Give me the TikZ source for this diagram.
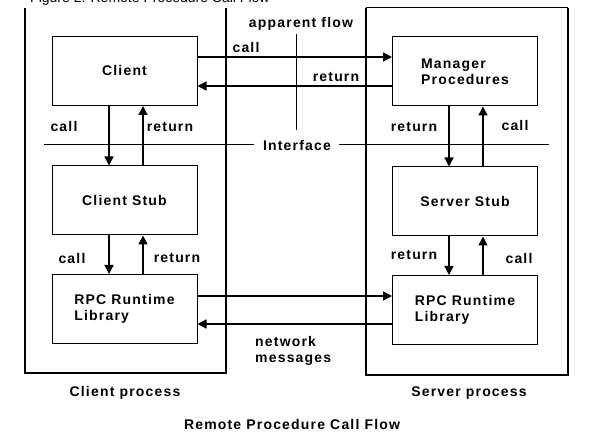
\documentclass[tikz,border=0pt]{standalone}
\usepackage{fontspec}
\setmainfont{Liberation Sans}
\newfontfamily\lbl[LetterSpace=8.5]{Liberation Sans Bold}
\usetikzlibrary{arrows.meta}
\begin{document}
\begin{tikzpicture}[x=1pt,y=-1pt,
  txt/.style={font=\lbl\fontsize{14}{16}\selectfont, inner sep=0pt},
  box/.style={draw, line width=1pt, minimum width=145pt, minimum height=69pt,
    inner sep=0pt, align=left, font=\lbl\fontsize{14}{16}\selectfont},
  arr/.style={line width=1.4pt, -{Triangle[length=9pt,width=9pt]}},
  proc/.style={line width=1.8pt},
  rule/.style={line width=1pt}]
\useasboundingbox (0,0) rectangle (608,443);
\clip (0,0) rectangle (608,443);
% title (cropped)
\node[anchor=base west, font=\fontsize{14}{16}\selectfont, inner sep=0pt] (fig) at (30,3) {Figure 2. Remote Procedure Call Flow};
% process frames
\draw[proc] (25,8) -- (25,373) -- (226,373) -- (226,8);
\draw[proc] (366,8) -- (366,375) -- (568,375) -- (568,8);
\draw[rule] (366,8) -- (568,8);
% boxes
\node[box] (client) at (124.5,71) {Client};
\node[box] (manager) at (465,71.5) {Manager\\Procedures};
\node[box] (cstub) at (124.5,200.5) {Client Stub};
\node[box] (sstub) at (465,201.5) {Server Stub};
\node[box] (crpc) at (124.5,309) {RPC Runtime\\Library};
\node[box] (srpc) at (465,310) {RPC Runtime\\Library};
% helper coordinates
\coordinate (xa) at (109,0);
\coordinate (xb) at (143,0);
\coordinate (xc) at (449,0);
\coordinate (xd) at (483,0);
\coordinate (ya) at (0,57);
\coordinate (yb) at (0,86);
\coordinate (yc) at (0,296);
\coordinate (yd) at (0,324);
% arrows
\draw[arr] (client.east |- ya) -- (manager.west |- ya);
\draw[arr] (manager.west |- yb) -- (client.east |- yb);
\draw[arr] (client.south -| xa) -- (cstub.north -| xa);
\draw[arr] (cstub.north -| xb) -- (client.south -| xb);
\draw[arr] (cstub.south -| xa) -- (crpc.north -| xa);
\draw[arr] (crpc.north -| xb) -- (cstub.south -| xb);
\draw[arr] (manager.south -| xc) -- (sstub.north -| xc);
\draw[arr] (sstub.north -| xd) -- (manager.south -| xd);
\draw[arr] (sstub.south -| xc) -- (srpc.north -| xc);
\draw[arr] (srpc.north -| xd) -- (sstub.south -| xd);
\draw[arr] (crpc.east |- yc) -- (srpc.west |- yc);
\draw[arr] (srpc.west |- yd) -- (crpc.east |- yd);
% interface
\node[txt] (iface) at (297,145) {Interface};
\coordinate (ifl) at (44,145);
\coordinate (ifr) at (549,145);
\draw[rule] (ifl) -- ([xshift=-9pt]iface.west);
\draw[rule] ([xshift=8pt]iface.east) -- (ifr);
% apparent flow
\node[txt] (app) at (301,24) {apparent flow};
\coordinate (aft) at (296,34);
\coordinate (afb) at (296,130);
\draw[rule] (aft) -- (afb);
% labels
\node[txt] (l1) at (246,48) {call};
\node[txt] (l2) at (336,77) {return};
\node[txt] (l3) at (64,127) {call};
\node[txt] (l4) at (170,127) {return};
\node[txt] (l5) at (414,127) {return};
\node[txt] (l6) at (515,125) {call};
\node[txt] (l7) at (72,258) {call};
\node[txt] (l8) at (177,258) {return};
\node[txt] (l9) at (414,255) {return};
\node[txt] (l10) at (519,258) {call};
\node[txt, align=left, anchor=west] (net) at (255,351) {network\\messages};
\node[txt] (cp) at (125,393) {Client process};
\node[txt] (sp) at (469,393) {Server process};
\node[txt] (cap) at (292,424) {Remote Procedure Call Flow};
\end{tikzpicture}
\end{document}
